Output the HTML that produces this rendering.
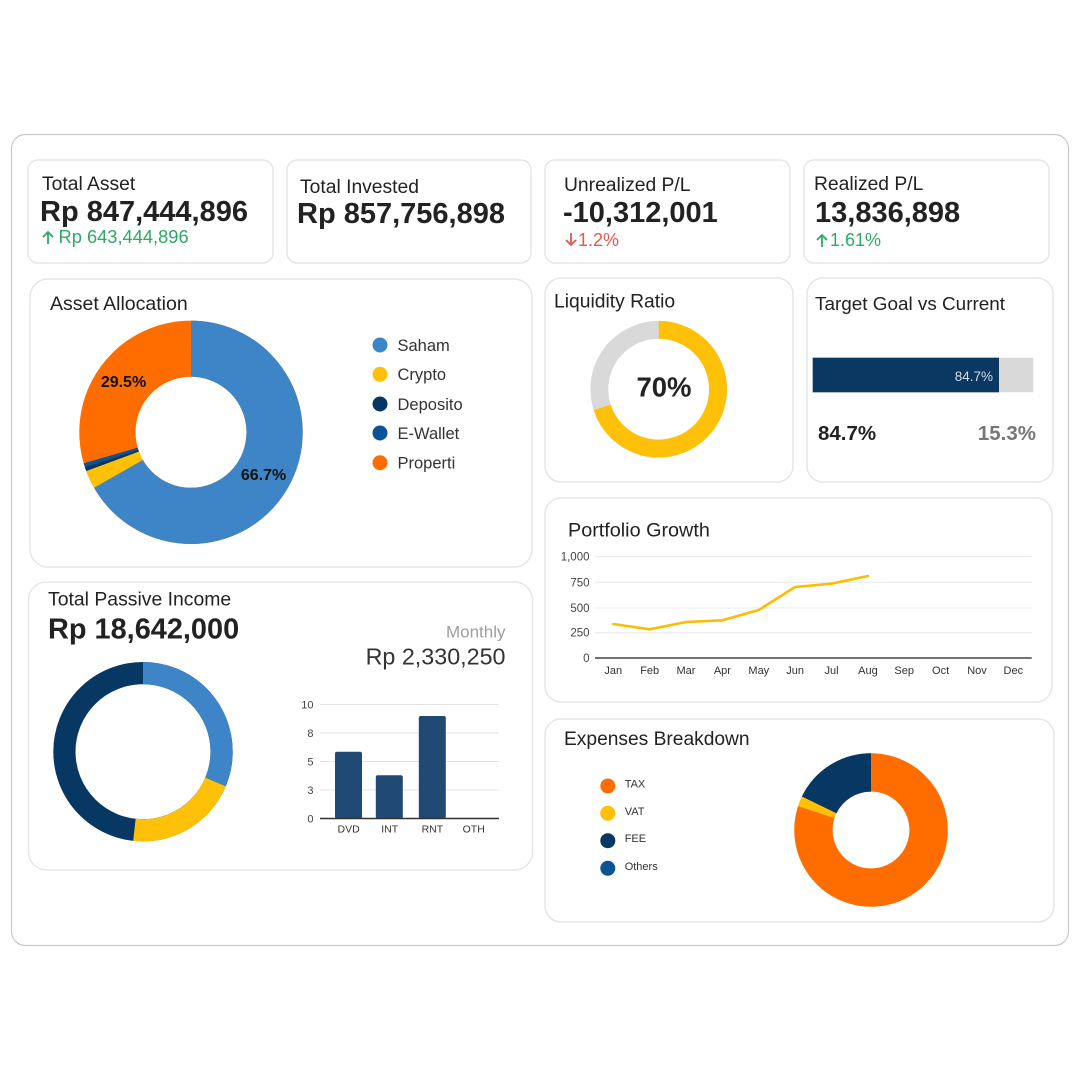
<!DOCTYPE html>
<html>
<head>
<meta charset="utf-8">
<style>
  html,body{margin:0;padding:0;background:#ffffff;}
  svg{display:block;}
  text{font-family:"Liberation Sans", Arial, sans-serif;}
</style>
</head>
<body>
<svg width="1080" height="1080" viewBox="0 0 1080 1080" xmlns="http://www.w3.org/2000/svg">
  <rect x="0" y="0" width="1080" height="1080" fill="#ffffff"/>
  <!-- outer container -->
  <rect x="11.5" y="134.5" width="1057" height="811" rx="14" fill="#ffffff" stroke="#c9c9c9" stroke-width="1.2"/>

  <!-- cards -->
  <g fill="#ffffff" stroke="#e6e6e6" stroke-width="1.5">
    <rect x="28" y="160" width="245" height="103" rx="10"/>
    <rect x="287" y="160" width="244" height="103" rx="10"/>
    <rect x="545" y="160" width="245" height="103" rx="10"/>
    <rect x="804" y="160" width="245" height="103" rx="10"/>
    <rect x="30" y="279" width="502" height="288" rx="18"/>
    <rect x="545" y="278" width="248" height="204" rx="16"/>
    <rect x="807" y="278" width="246" height="204" rx="16"/>
    <rect x="545" y="498" width="507" height="204" rx="16"/>
    <rect x="28.5" y="582" width="504" height="288" rx="18"/>
    <rect x="545" y="719" width="509" height="203" rx="16"/>
  </g>

  <!-- KPI 1 -->
  <text x="42" y="190" font-size="19.3" fill="#222">Total Asset</text>
  <text x="40" y="221" font-size="29" font-weight="bold" fill="#222">Rp 847,444,896</text>
  <path d="M48 244 V232 M43 237 L48 232 L53 237" fill="none" stroke="#2ea866" stroke-width="1.8"/>
  <text x="58.5" y="243" font-size="18.3" fill="#2ea866">Rp 643,444,896</text>

  <!-- KPI 2 -->
  <text x="300" y="193" font-size="19.3" fill="#222">Total Invested</text>
  <text x="297" y="223" font-size="29" font-weight="bold" fill="#222">Rp 857,756,898</text>

  <!-- KPI 3 -->
  <text x="564" y="191" font-size="19.3" fill="#222">Unrealized P/L</text>
  <text x="563" y="222" font-size="29" font-weight="bold" fill="#222">-10,312,001</text>
  <path d="M571 233 V245 M566 240 L571 245 L576 240" fill="none" stroke="#e05a4f" stroke-width="1.8"/>
  <text x="578" y="246" font-size="18" fill="#e05a4f">1.2%</text>

  <!-- KPI 4 -->
  <text x="814" y="190" font-size="19.3" fill="#222">Realized P/L</text>
  <text x="815" y="222" font-size="29" font-weight="bold" fill="#222">13,836,898</text>
  <path d="M822 247 V235 M817 240 L822 235 L827 240" fill="none" stroke="#2ea866" stroke-width="1.8"/>
  <text x="830" y="246" font-size="18" fill="#2ea866">1.61%</text>

  <!-- Asset Allocation -->
  <text x="50" y="310" font-size="19.5" fill="#222">Asset Allocation</text>
  <g transform="rotate(-90 191 432.3)" fill="none" stroke-width="56.2">
    <circle cx="191" cy="432.3" r="83.6" stroke="#ff6d01"/>
    <circle cx="191" cy="432.3" r="83.6" stroke="#3d85c6" stroke-dasharray="350.33 600"/>
    <circle cx="191" cy="432.3" r="83.6" stroke="#ffc107" stroke-dasharray="13.86 600" stroke-dashoffset="-350.33"/>
    <circle cx="191" cy="432.3" r="83.6" stroke="#073763" stroke-dasharray="3.06 600" stroke-dashoffset="-364.19"/>
    <circle cx="191" cy="432.3" r="83.6" stroke="#0b5394" stroke-dasharray="3.06 600" stroke-dashoffset="-367.26"/>
  </g>
  <text x="263.5" y="480" font-size="16" font-weight="bold" fill="#111" text-anchor="middle">66.7%</text>
  <text x="123.5" y="387" font-size="16" font-weight="bold" fill="#111" text-anchor="middle">29.5%</text>
  <circle cx="380" cy="345" r="7.5" fill="#3d85c6"/>
  <circle cx="380" cy="374.3" r="7.5" fill="#ffc107"/>
  <circle cx="380" cy="404" r="7.5" fill="#073763"/>
  <circle cx="380" cy="433" r="7.5" fill="#0b5394"/>
  <circle cx="380" cy="462.7" r="7.5" fill="#ff6d01"/>
  <g font-size="16.5" fill="#333">
    <text x="397.5" y="350.8">Saham</text>
    <text x="397.5" y="380.1">Crypto</text>
    <text x="397.5" y="409.8">Deposito</text>
    <text x="397.5" y="438.8">E-Wallet</text>
    <text x="397.5" y="468.5">Properti</text>
  </g>

  <!-- Liquidity Ratio -->
  <text x="554" y="307.5" font-size="19.3" fill="#222">Liquidity Ratio</text>
  <g transform="rotate(-90 658.7 389.2)" fill="none" stroke-width="17.9">
    <circle cx="658.7" cy="389.2" r="59.35" stroke="#d9d9d9"/>
    <circle cx="658.7" cy="389.2" r="59.35" stroke="#ffc107" stroke-dasharray="261.04 400"/>
  </g>
  <text x="664" y="396.5" font-size="27.5" font-weight="bold" fill="#222" text-anchor="middle">70%</text>

  <!-- Target Goal vs Current -->
  <text x="815" y="310" font-size="18.9" fill="#222">Target Goal vs Current</text>
  <rect x="812.7" y="357.7" width="220.6" height="34.6" fill="#d9d9d9"/>
  <rect x="812.7" y="357.7" width="186.3" height="34.6" fill="#0b3862"/>
  <text x="993" y="381" font-size="13.5" fill="#d6dde6" text-anchor="end">84.7%</text>
  <text x="818" y="440" font-size="20.5" font-weight="bold" fill="#222">84.7%</text>
  <text x="1036" y="440" font-size="20.5" font-weight="bold" fill="#777" text-anchor="end">15.3%</text>

  <!-- Portfolio Growth -->
  <text x="568" y="536.5" font-size="19.8" fill="#222">Portfolio Growth</text>
  <g stroke="#e8e8e8" stroke-width="1">
    <line x1="595" y1="556.7" x2="1031.7" y2="556.7"/>
    <line x1="595" y1="582.3" x2="1031.7" y2="582.3"/>
    <line x1="595" y1="608" x2="1031.7" y2="608"/>
    <line x1="595" y1="632.7" x2="1031.7" y2="632.7"/>
  </g>
  <line x1="595" y1="658" x2="1031.7" y2="658" stroke="#444" stroke-width="1.5"/>
  <g font-size="11.5" fill="#444" text-anchor="end">
    <text x="589.5" y="560.7">1,000</text>
    <text x="589.5" y="586.3">750</text>
    <text x="589.5" y="612">500</text>
    <text x="589.5" y="636.7">250</text>
    <text x="589.5" y="662">0</text>
  </g>
  <g font-size="11" fill="#333" text-anchor="middle">
    <text x="613.3" y="674">Jan</text>
    <text x="649.7" y="674">Feb</text>
    <text x="686" y="674">Mar</text>
    <text x="722.4" y="674">Apr</text>
    <text x="758.8" y="674">May</text>
    <text x="795.1" y="674">Jun</text>
    <text x="831.5" y="674">Jul</text>
    <text x="867.9" y="674">Aug</text>
    <text x="904.2" y="674">Sep</text>
    <text x="940.6" y="674">Oct</text>
    <text x="977" y="674">Nov</text>
    <text x="1013.3" y="674">Dec</text>
  </g>
  <polyline points="613.3,624 649.7,629.3 686,622 722.4,620.3 758.8,610 795.1,587 831.5,583.7 867.9,576" fill="none" stroke="#fbbc04" stroke-width="2.6" stroke-linejoin="round" stroke-linecap="round"/>

  <!-- Total Passive Income -->
  <text x="48" y="605.5" font-size="19.4" fill="#222">Total Passive Income</text>
  <text x="48" y="638.3" font-size="28.9" font-weight="bold" fill="#222">Rp 18,642,000</text>
  <text x="505.5" y="637.7" font-size="17" fill="#9e9e9e" text-anchor="end">Monthly</text>
  <text x="505.5" y="664.3" font-size="23.3" fill="#333" text-anchor="end">Rp 2,330,250</text>
  <g transform="rotate(-90 143 751.7)" fill="none" stroke-width="22.2">
    <circle cx="143" cy="751.7" r="78.6" stroke="#073763"/>
    <circle cx="143" cy="751.7" r="78.6" stroke="#3d85c6" stroke-dasharray="154.47 600"/>
    <circle cx="143" cy="751.7" r="78.6" stroke="#ffc107" stroke-dasharray="100.97 600" stroke-dashoffset="-154.47"/>
  </g>
  <g stroke="#e3e3e3" stroke-width="1">
    <line x1="320" y1="704.5" x2="499" y2="704.5"/>
    <line x1="320" y1="733" x2="499" y2="733"/>
    <line x1="320" y1="761.5" x2="499" y2="761.5"/>
    <line x1="320" y1="790" x2="499" y2="790"/>
  </g>
  <g fill="#204a73">
    <rect x="335" y="751.7" width="27" height="66.8" rx="2"/>
    <rect x="375.8" y="775.3" width="27" height="43.2" rx="2"/>
    <rect x="418.8" y="716" width="27" height="102.5" rx="2"/>
  </g>
  <line x1="320" y1="818.5" x2="499" y2="818.5" stroke="#333" stroke-width="1.4"/>
  <g font-size="11" fill="#444" text-anchor="end">
    <text x="313.5" y="708.5">10</text>
    <text x="313.5" y="737">8</text>
    <text x="313.5" y="765.5">5</text>
    <text x="313.5" y="794">3</text>
    <text x="313.5" y="822.3">0</text>
  </g>
  <g font-size="10.5" fill="#333" text-anchor="middle">
    <text x="348.6" y="832.3">DVD</text>
    <text x="389.7" y="832.3">INT</text>
    <text x="432.4" y="832.3">RNT</text>
    <text x="473.7" y="832.3">OTH</text>
  </g>

  <!-- Expenses Breakdown -->
  <text x="564" y="745" font-size="19.2" fill="#222">Expenses Breakdown</text>
  <circle cx="607.8" cy="786" r="7.5" fill="#ff6d01"/>
  <circle cx="607.8" cy="813.3" r="7.5" fill="#ffc107"/>
  <circle cx="607.8" cy="840.7" r="7.5" fill="#073763"/>
  <circle cx="607.8" cy="868.3" r="7.5" fill="#0b5394"/>
  <g font-size="11" fill="#333">
    <text x="624.7" y="787.5">TAX</text>
    <text x="624.7" y="814.8">VAT</text>
    <text x="624.7" y="842.2">FEE</text>
    <text x="624.7" y="869.8">Others</text>
  </g>
  <g transform="rotate(-90 871 830)" fill="none" stroke-width="38.4">
    <circle cx="871" cy="830" r="57.6" stroke="#ff6d01"/>
    <circle cx="871" cy="830" r="57.6" stroke="#ffc107" stroke-dasharray="7.84 600" stroke-dashoffset="-289.33"/>
    <circle cx="871" cy="830" r="57.6" stroke="#073763" stroke-dasharray="64.74 600" stroke-dashoffset="-297.17"/>
  </g>
</svg>
</body>
</html>
